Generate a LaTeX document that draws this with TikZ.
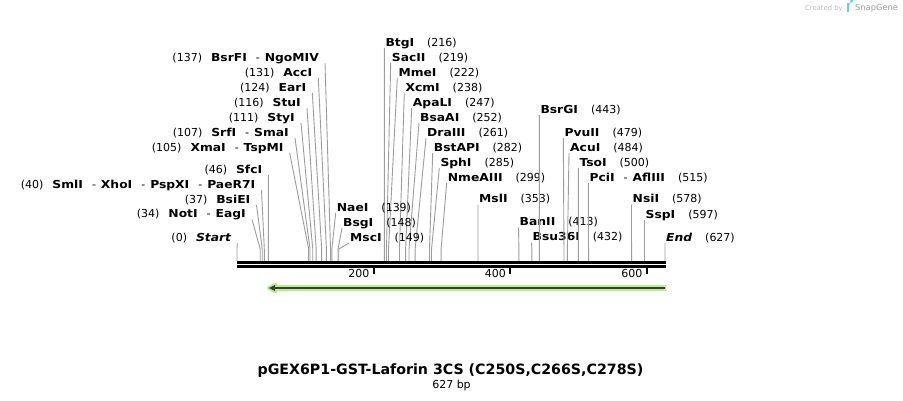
\documentclass[tikz,border=0pt]{standalone}
\usepackage{fontspec}
\setmainfont{DejaVu Sans}[BoldFeatures={FakeStretch=1.12},BoldItalicFeatures={FakeStretch=1.12}]
\newfontfamily\titlefont{DejaVu Sans Bold}
\definecolor{cutgray}{HTML}{9C9C9C}
\definecolor{featgreen}{HTML}{B6F08A}
\definecolor{featdark}{HTML}{3C3C3C}
\definecolor{sglight}{HTML}{BDBDBD}
\definecolor{sgdark}{HTML}{9A9A9A}
\definecolor{sgblue}{HTML}{6CC8F0}
\tikzset{
  lbl/.style={inner sep=0pt, font=\fontsize{11pt}{13pt}\selectfont, text=black},
  cutline/.style={draw=cutgray, line width=0.9pt},
  backbone/.style={line width=2.6pt, draw=black},
  tickline/.style={line width=2pt, draw=black},
  titlestyle/.style={inner sep=0pt, font=\fontsize{14.2pt}{16pt}\selectfont\titlefont},
  credit/.style={inner sep=0pt},
}
\newcommand\enzname[1]{{\bfseries #1}}
\newcommand\enzsep{\hspace{9pt}-\hspace{5pt}}
\newcommand\numgap{\hspace{13pt}}
\newcommand\leftgap{\hspace{9pt}}
% left label: id, bp, row, line-top x, text
\newcommand\cutL[5]{%
  \node[lbl, anchor=base east] (n#1) at ({#4-6},{#3+4}) {#5};
  \coordinate (k#1) at ({237+#2*0.68262},249);
  \coordinate (g#1) at ({237+#2*0.68262},261);
  \draw[cutline] ([xshift=6pt,yshift=-2pt]n#1.base east) -- (k#1) -- (g#1);
}
% right label: id, bp, row, line-top x, text
\newcommand\cutR[5]{%
  \node[lbl, anchor=base west] (n#1) at ({#4+1},{#3+4}) {#5};
  \coordinate (k#1) at ({237+#2*0.68262},249);
  \coordinate (g#1) at ({237+#2*0.68262},261);
  \draw[cutline] ([xshift=-1pt,yshift=-2pt]n#1.base west) -- (k#1) -- (g#1);
}
\begin{document}
\begin{tikzpicture}[x=1pt,y=-1pt]
\useasboundingbox (0,0) rectangle (903,400);
\fill[white] (0,0) rectangle (903,400);

% credit
\node[credit, anchor=base west, text=sglight, font=\fontsize{6.8pt}{8pt}\selectfont] (cb) at (805,10) {Created by};
\fill[sgblue] (846.5,2.5) rectangle (849.3,12);
\fill[sgblue] (849.3,2.5) -- (851,2.5) arc[start angle=90, end angle=-90, radius=2.4] -- (849.3,7.3) -- cycle;
\node[credit, anchor=base west, text=sgdark, font=\fontsize{8.3pt}{9pt}\selectfont] (sg) at (855,10) {SnapGene};

% left labels
\cutL{bsrfi}{137}{57}{325}{(137)\leftgap\enzname{BsrFI}\enzsep\enzname{NgoMIV}}
\cutL{acci}{131}{72}{318.3}{(131)\leftgap\enzname{AccI}}
\cutL{eari}{124}{87}{312.3}{(124)\leftgap\enzname{EarI}}
\cutL{stui}{116}{102}{307}{(116)\leftgap\enzname{StuI}}
\cutL{styi}{111}{117}{301}{(111)\leftgap\enzname{StyI}}
\cutL{srfi}{107}{132}{295}{(107)\leftgap\enzname{SrfI}\enzsep\enzname{SmaI}}
\cutL{xmai}{105}{147}{289.7}{(105)\leftgap\enzname{XmaI}\enzsep\enzname{TspMI}}
\cutL{sfci}{46}{169}{268.4}{(46)\leftgap\enzname{SfcI}}
\cutL{smli}{40}{184}{261.5}{(40)\leftgap\enzname{SmlI}\enzsep\enzname{XhoI}\enzsep\enzname{PspXI}\enzsep\enzname{PaeR7I}}
\cutL{bsiei}{37}{199}{256.5}{(37)\leftgap\enzname{BsiEI}}
\cutL{noti}{34}{213.5}{252}{(34)\leftgap\enzname{NotI}\enzsep\enzname{EagI}}
\cutL{start}{0}{237}{237.3}{(0)\leftgap{\bfseries\itshape Start}}

% right labels, middle group
\cutR{btgi}{216}{42}{384.3}{\enzname{BtgI}\numgap(216)}
\cutR{sacii}{219}{57}{390.7}{\enzname{SacII}\numgap(219)}
\cutR{mmei}{222}{72}{397.3}{\enzname{MmeI}\numgap(222)}
\cutR{xcmi}{238}{87}{404.3}{\enzname{XcmI}\numgap(238)}
\cutR{apali}{247}{102}{411.7}{\enzname{ApaLI}\numgap(247)}
\cutR{bsaai}{252}{117}{419}{\enzname{BsaAI}\numgap(252)}
\cutR{draiii}{261}{132}{426}{\enzname{DraIII}\numgap(261)}
\cutR{bstapi}{282}{147}{432.7}{\enzname{BstAPI}\numgap(282)}
\cutR{sphi}{285}{162}{439.3}{\enzname{SphI}\numgap(285)}
\cutR{nmeaiii}{299}{177}{446.7}{\enzname{NmeAIII}\numgap(299)}
\cutR{naei}{139}{207}{335.7}{\enzname{NaeI}\numgap(139)}
\cutR{bsgi}{148}{222}{342}{\enzname{BsgI}\numgap(148)}
\cutR{msci}{149}{237}{349}{\enzname{MscI}\numgap(149)}

% right labels, right group
\cutR{msli}{353}{198.5}{478}{\enzname{MslI}\numgap(353)}
\cutR{banii}{413}{221.5}{518.5}{\enzname{BanII}\numgap(413)}
\cutR{bsu}{432}{236.5}{531.5}{\enzname{Bsu36I}\numgap(432)}
\cutR{bsrgi}{443}{109}{539.3}{\enzname{BsrGI}\numgap(443)}
\cutR{pvuii}{479}{132}{563.3}{\enzname{PvuII}\numgap(479)}
\cutR{acui}{484}{147}{569}{\enzname{AcuI}\numgap(484)}
\cutR{tsoi}{500}{162}{578.3}{\enzname{TsoI}\numgap(500)}
\cutR{pcii}{515}{177}{588.3}{\enzname{PciI}\enzsep\enzname{AflIII}\numgap(515)}
\cutR{nsii}{578}{198.5}{631.5}{\enzname{NsiI}\numgap(578)}
\cutR{sspi}{597}{214}{644.5}{\enzname{SspI}\numgap(597)}
\cutR{end}{627}{237}{665}{{\bfseries\itshape End}\numgap(627)}

% backbone
\coordinate (bbL1) at (237,262.3); \coordinate (bbR1) at (665.8,262.3);
\coordinate (bbL2) at (237,266.4); \coordinate (bbR2) at (665.8,266.4);
\draw[backbone] (bbL1) -- (bbR1);
\draw[backbone] (bbL2) -- (bbR2);
\foreach \v in {200,400,600}{
  \coordinate (tk\v) at ({237+\v*0.68262},267);
  \draw[tickline] (tk\v) -- ++(0,6.5);
  \node[lbl, anchor=base east] (tl\v) at ([xshift=-4pt,yshift=-10.5pt]tk\v) {\v};
}

% feature arrow
\draw[featgreen, line width=5.5pt] (665.8,288) -- (275,288);
\filldraw[featgreen, line width=2.5pt, line join=round] (268,288) -- (276,283.7) -- (276,292.3) -- cycle;
\draw[featdark, line width=1.8pt] (664.5,288) -- (274,288);
\fill[featdark] (269,288) -- (275,284.9) -- (275,291.1) -- cycle;

% title
\node[titlestyle, anchor=base] (title) at (450.5,374.5) {pGEX6P1-GST-Laforin 3CS (C250S,C266S,C278S)};
\node[lbl, anchor=base] (size) at (451.5,388) {627 bp};
\end{tikzpicture}
\end{document}
